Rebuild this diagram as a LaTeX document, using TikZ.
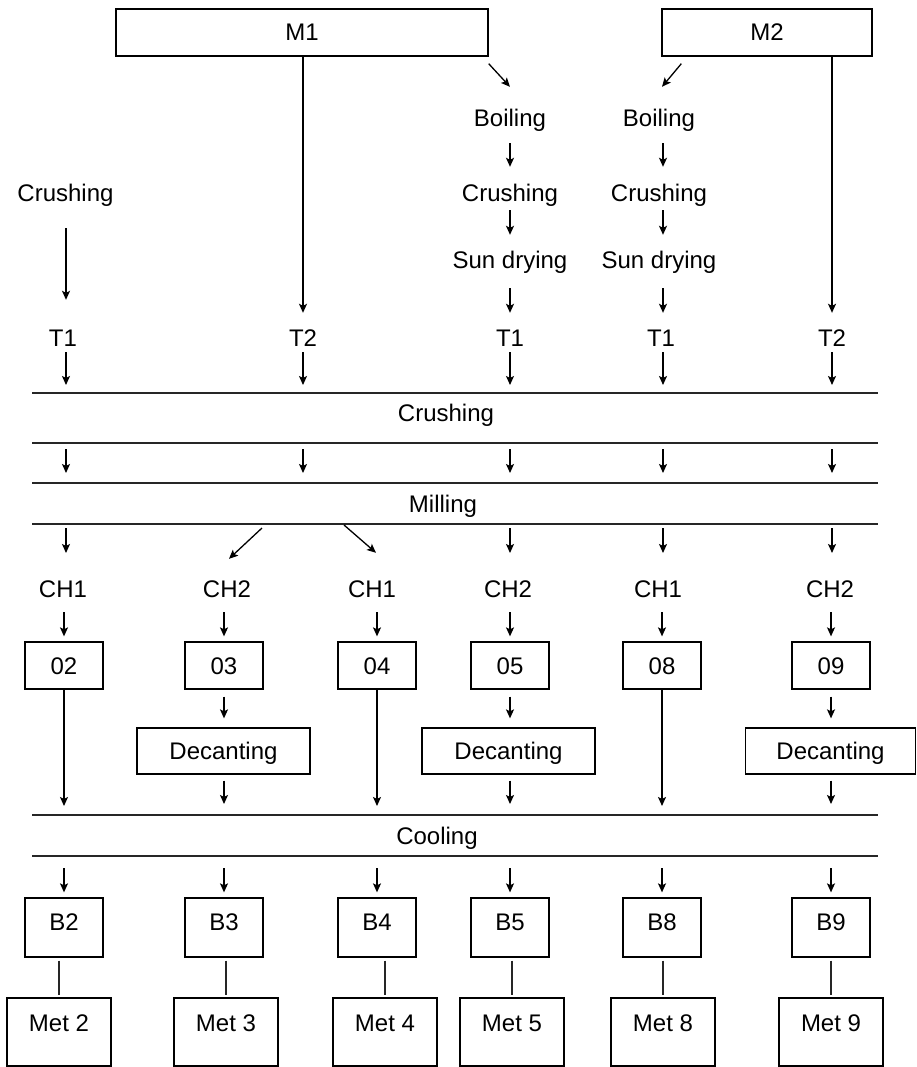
\documentclass[tikz,border=0pt]{standalone}
\usepackage{fontspec}
\setmainfont{Liberation Sans}
\usetikzlibrary{arrows.meta}
\newcommand\myfs{\fontsize{24pt}{28pt}\selectfont}
\begin{document}
\begin{tikzpicture}[x=1pt,y=-1pt,
  lbl/.style={font=\myfs, text height=17pt, text depth=0pt, inner sep=0pt},
  box/.style={draw=black, line width=1.3pt, inner sep=0pt, font=\myfs, text height=17pt, text depth=0pt},
  arr/.style={draw=black, line width=1.3pt, -{Stealth[length=9pt,width=8pt,inset=2pt]}},
  ln/.style={draw=black!85, line width=1.4pt},
  plain/.style={draw=black!85, line width=1.3pt}]
\useasboundingbox (0,0) rectangle (916,1067);

% top boxes
\node[box, minimum width=372pt, minimum height=47pt] (m1) at (302,32.5) {M1};
\node[box, minimum width=210pt, minimum height=47pt] (m2) at (767,32.5) {M2};

% upper labels
\node[lbl] (boil1) at (510,118) {Boiling};
\node[lbl] (boil2) at (659,118) {Boiling};
\node[lbl] (crL) at (65.5,193) {Crushing};
\node[lbl] (cr1) at (510,193) {Crushing};
\node[lbl] (cr2) at (659,193) {Crushing};
\node[lbl] (sd1) at (510,260) {Sun drying};
\node[lbl] (sd2) at (659,260) {Sun drying};
\node[lbl] (tA) at (63,338) {T1};
\node[lbl] (tB) at (303,338) {T2};
\node[lbl] (tC) at (510,338) {T1};
\node[lbl] (tD) at (661,338) {T1};
\node[lbl] (tE) at (832,338) {T2};
\coordinate (xA) at (66,0);
\coordinate (xD) at (663,0);

% arrows top
\draw[arr] ([yshift=-7pt]m1.south east) -- ([yshift=22.5pt]boil1.north);
\draw[arr] ([xshift=20pt,yshift=-7pt]m2.south west) -- ([xshift=3pt,yshift=22.5pt]boil2.north);
\draw[arr] (m1.south -| tB.north) -- ([yshift=16.5pt]tB.north);
\draw[arr] (m2.south -| tE.north) -- ([yshift=16.5pt]tE.north);
\draw[arr, shorten <=16.5pt, shorten >=17.5pt] (boil1.south) -- (cr1.north);
\draw[arr, shorten <=16.5pt, shorten >=17.5pt] (boil2.south -| xD) -- (cr2.north -| xD);
\draw[arr, shorten <=8.5pt, shorten >=16.5pt] (cr1.south) -- (sd1.north);
\draw[arr, shorten <=8.5pt, shorten >=16.5pt] (cr2.south -| xD) -- (sd2.north -| xD);
\draw[arr, shorten <=19.5pt, shorten >=16.5pt] (sd1.south) -- (tC.north);
\draw[arr, shorten <=19.5pt, shorten >=16.5pt] (sd2.south -| xD) -- (tD.north -| xD);
\draw[arr, shorten <=26.5pt, shorten >=29.5pt] (crL.south -| xA) -- (tA.north -| xA);

% band lines
\coordinate (L1a) at (32,393); \coordinate (L1b) at (878,393);
\coordinate (L2a) at (32,443); \coordinate (L2b) at (878,443);
\coordinate (L3a) at (32,483); \coordinate (L3b) at (878,483);
\coordinate (L4a) at (32,524); \coordinate (L4b) at (878,524);
\coordinate (L5a) at (32,815); \coordinate (L5b) at (878,815);
\coordinate (L6a) at (32,856); \coordinate (L6b) at (878,856);
\draw[ln] (L1a) -- (L1b);
\draw[ln] (L2a) -- (L2b);
\draw[ln] (L3a) -- (L3b);
\draw[ln] (L4a) -- (L4b);
\draw[ln] (L5a) -- (L5b);
\draw[ln] (L6a) -- (L6b);
\node[lbl] (crband) at (446,413) {Crushing};
\node[lbl] (milband) at (443,504) {Milling};
\node[lbl] (coolband) at (437,836) {Cooling};

% T -> crushing band and crushing -> milling
\foreach \xx in {66,303,510,663,832}{
  \draw[arr, shorten <=5.5pt, shorten >=8pt] (\xx,346.5) -- (\xx,393);
  \draw[arr, shorten <=6pt, shorten >=10pt] (\xx,443) -- (\xx,483);
}

% CH labels
\node[lbl] (ch1) at (63,589) {CH1};
\node[lbl] (ch2) at (227,589) {CH2};
\node[lbl] (ch3) at (372,589) {CH1};
\node[lbl] (ch4) at (508,589) {CH2};
\node[lbl] (ch5) at (658,589) {CH1};
\node[lbl] (ch6) at (830,589) {CH2};

% boxes 02..09
\tikzset{obox/.style={box, minimum width=78pt, minimum height=47pt}}
\node[obox] (o02) at (64,665.5) {02};
\node[obox] (o03) at (224,665.5) {03};
\node[obox] (o04) at (377,665.5) {04};
\node[obox] (o05) at (510,665.5) {05};
\node[obox] (o08) at (662,665.5) {08};
\node[obox] (o09) at (831,665.5) {09};

% milling -> CH
\draw[arr, shorten <=4pt, shorten >=27.5pt] (66,524) -- (66,580.5);
\draw[arr, shorten <=4pt, shorten >=27.5pt] (510,524) -- (510,580.5);
\draw[arr, shorten <=4pt, shorten >=27.5pt] (663,524) -- (663,580.5);
\draw[arr, shorten <=4pt, shorten >=27.5pt] (832,524) -- (832,580.5);
\draw[arr] (262,528) -- ([xshift=2pt,yshift=21.5pt]ch2.north);
\draw[arr] (344,525) -- ([xshift=4pt,yshift=27.5pt]ch3.north);

% CH -> boxes
\foreach \c/\o in {ch1/o02,ch2/o03,ch3/o04,ch4/o05,ch5/o08,ch6/o09}{
  \draw[arr, shorten <=14.5pt, shorten >=5pt] (\c.south -| \o.north) -- (\o.north);
}

% decanting boxes
\tikzset{dbox/.style={box, minimum width=173pt, minimum height=46pt, text depth=0pt}}
\node[dbox] (d03) at (223.5,751) {Decanting};
\node[dbox] (d05) at (508.5,751) {Decanting};
\node[dbox, minimum width=170pt] (d09) at (830.5,751) {Decanting};

\foreach \o in {o02,o04,o08}{
  \draw[arr, shorten >=9pt] (\o.south) -- (\o.south |- L5a);
}
\foreach \o/\d in {o03/d03,o05/d05,o09/d09}{
  \draw[arr, shorten <=7pt, shorten >=9pt] (\o.south) -- (\o.south |- \d.north);
  \draw[arr, shorten <=6pt, shorten >=11pt] (\o.south |- \d.south) -- (\o.south |- L5a);
}

% B boxes
\tikzset{bbox/.style={box, minimum width=78pt, minimum height=59pt, text depth=11pt}}
\node[bbox] (b2) at (64,927.5) {B2};
\node[bbox] (b3) at (224,927.5) {B3};
\node[bbox] (b4) at (377,927.5) {B4};
\node[bbox] (b5) at (510,927.5) {B5};
\node[bbox] (b8) at (662,927.5) {B8};
\node[bbox] (b9) at (831,927.5) {B9};
\foreach \b in {b2,b3,b4,b5,b8,b9}{
  \draw[arr, shorten <=12pt, shorten >=5pt] (\b.north |- L6a) -- (\b.north);
}

% Met boxes
\tikzset{mbox/.style={box, minimum width=104pt, minimum height=68pt, text depth=18pt}}
\node[mbox] (met2) at (59,1032) {Met 2};
\node[mbox] (met3) at (226,1032) {Met 3};
\node[mbox] (met4) at (385,1032) {Met 4};
\node[mbox] (met5) at (512,1032) {Met 5};
\node[mbox] (met8) at (663,1032) {Met 8};
\node[mbox] (met9) at (831,1032) {Met 9};
\foreach \b/\m in {b2/met2,b3/met3,b4/met4,b5/met5,b8/met8,b9/met9}{
  \draw[plain, shorten <=3pt, shorten >=2pt] (\b.south -| \m.north) -- (\m.north);
}
\end{tikzpicture}
\end{document}
